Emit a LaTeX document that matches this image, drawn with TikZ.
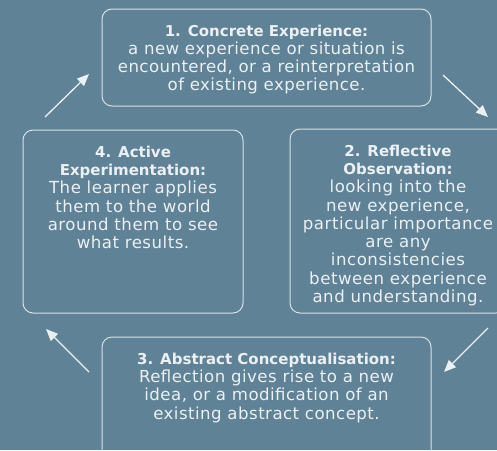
\documentclass[tikz,border=0pt]{standalone}
\usepackage{fontspec}
\setmainfont{DejaVu Sans}
\newfontface\headface{DejaVu Sans Bold}
\usepackage{tikz}
\usetikzlibrary{arrows.meta,positioning}

\definecolor{slate}{RGB}{96,130,150}
\definecolor{chalk}{RGB}{234,240,243}
\definecolor{rim}{RGB}{214,224,230}

\newcommand{\stagehead}[1]{{\headface\fontsize{15}{18.3}\selectfont #1}}

\tikzset{
  panel/.style={draw=rim, line width=1pt, rounded corners=10pt, inner sep=0pt},
  caption/.style={text=chalk, align=center, inner sep=0pt,
    font=\fontsize{16.6}{18.3}\selectfont\addfontfeatures{LetterSpace=#1}},
  caption/.default=0,
  cycle arrow/.style={draw=chalk, line width=1.3pt, -{Triangle[length=12pt,width=10pt]}}
}

\begin{document}
\begin{tikzpicture}[x=1pt,y=-1pt]
\fill[slate] (0,0) rectangle (497,450);
\useasboundingbox (0,0) rectangle (497,450);
\clip (0,0) rectangle (497,450);

% the four stages
\node[panel, minimum width=329pt, minimum height=97pt] (ce) at (266.5,57.5) {};
\node[panel, minimum width=216pt, minimum height=184pt] (ro) at (398,221) {};
\node[panel, minimum width=329pt, minimum height=123pt] (ac) at (266.5,398.5) {};
\node[panel, minimum width=220pt, minimum height=183pt] (ae) at (133,221.5) {};

\node[caption=2.6, below=16pt of ce.north] (cetext) {\stagehead{1. Concrete Experience:}\\a new experience or situation is\\encountered, or a reinterpretation\\of existing experience.};
\node[caption=3.2, below=16pt of ro.north] (rotext) {\stagehead{2. Reflective}\\\stagehead{Observation:}\\looking into the\\new experience,\\particular importance\\are any\\inconsistencies\\between experience\\and understanding.};
\node[caption=2.8, below=16pt of ac.north] (actext) {\stagehead{3. Abstract Conceptualisation:}\\Reflection gives rise to a new\\idea, or a modification of an\\existing abstract concept.};
\node[caption=3, below=16pt of ae.north] (aetext) {\stagehead{4. Active}\\\stagehead{Experimentation:}\\The learner applies\\them to the world\\around them to see\\what results.};

% arrows between the stages
\coordinate (a1) at (45,117);  \coordinate (b1) at (89,74);
\coordinate (a2) at (443,75);  \coordinate (b2) at (488,117);
\coordinate (a3) at (488,328); \coordinate (b3) at (444,372);
\coordinate (a4) at (89,372);  \coordinate (b4) at (46,329);
\draw[cycle arrow] (a1) -- (b1);
\draw[cycle arrow] (a2) -- (b2);
\draw[cycle arrow] (a3) -- (b3);
\draw[cycle arrow] (a4) -- (b4);
\end{tikzpicture}
\end{document}
